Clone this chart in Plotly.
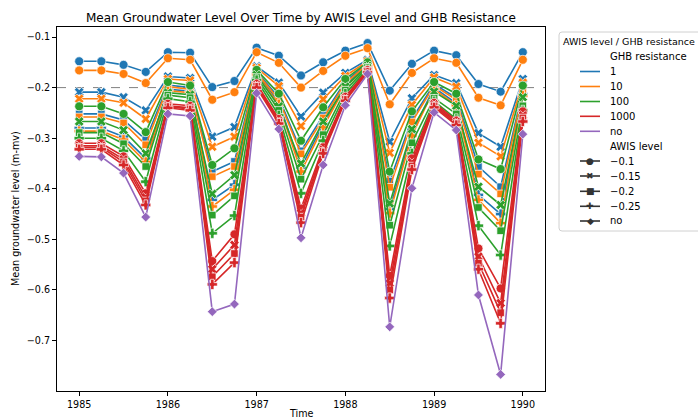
import plotly.graph_objects as go

# ---------------- data ----------------
time = [1985.0, 1985.25, 1985.5, 1985.75, 1986.0, 1986.25, 1986.5, 1986.75,
        1987.0, 1987.25, 1987.5, 1987.75, 1988.0, 1988.25, 1988.5, 1988.75,
        1989.0, 1989.25, 1989.5, 1989.75, 1990.0]

ghb_levels = ["1", "10", "100", "1000", "no"]
awis_levels = ["-0.1", "-0.15", "-0.2", "-0.25", "no"]

ghb1_awis010 = [-0.148, -0.148, -0.155, -0.169, -0.130, -0.131, -0.199, -0.187, -0.121, -0.137, -0.176,
                -0.150, -0.127, -0.112, -0.206, -0.153, -0.127, -0.136, -0.193, -0.208, -0.130]
ghb10_awis010 = [-0.166, -0.166, -0.173, -0.191, -0.142, -0.145, -0.224, -0.209, -0.130, -0.151, -0.200,
                 -0.167, -0.137, -0.122, -0.233, -0.171, -0.142, -0.151, -0.220, -0.235, -0.145]
ghb100_awis010 = [-0.237, -0.237, -0.252, -0.288, -0.189, -0.196, -0.353, -0.320, -0.165, -0.212, -0.305,
                  -0.239, -0.183, -0.150, -0.366, -0.247, -0.189, -0.212, -0.342, -0.361, -0.196]
ghb1000_awis010 = [-0.310, -0.310, -0.336, -0.409, -0.232, -0.236, -0.543, -0.490, -0.192, -0.262, -0.439,
                   -0.318, -0.218, -0.165, -0.572, -0.340, -0.230, -0.265, -0.518, -0.597, -0.247]

ghb1_awis015 = [-0.209, -0.209, -0.219, -0.245, -0.178, -0.181, -0.297, -0.278, -0.158, -0.190, -0.257,
                -0.210, -0.171, -0.145, -0.307, -0.221, -0.175, -0.191, -0.290, -0.317, -0.183]
ghb10_awis015 = [-0.222, -0.222, -0.230, -0.262, -0.183, -0.186, -0.317, -0.297, -0.161, -0.197, -0.276,
                 -0.223, -0.177, -0.148, -0.329, -0.234, -0.180, -0.198, -0.309, -0.336, -0.190]
ghb100_awis015 = [-0.267, -0.267, -0.284, -0.330, -0.210, -0.214, -0.410, -0.373, -0.175, -0.237, -0.350,
                  -0.267, -0.198, -0.157, -0.429, -0.282, -0.208, -0.236, -0.396, -0.432, -0.219]
ghb1000_awis015 = [-0.315, -0.315, -0.342, -0.417, -0.236, -0.240, -0.559, -0.511, -0.195, -0.266, -0.448,
                   -0.323, -0.221, -0.167, -0.587, -0.348, -0.233, -0.268, -0.534, -0.626, -0.255]

ghb1_awis020 = [-0.252, -0.252, -0.264, -0.303, -0.195, -0.200, -0.366, -0.346, -0.168, -0.220, -0.325,
                -0.255, -0.188, -0.152, -0.385, -0.262, -0.193, -0.220, -0.356, -0.396, -0.205]
ghb10_awis020 = [-0.258, -0.258, -0.270, -0.313, -0.198, -0.203, -0.376, -0.356, -0.170, -0.224, -0.331,
                 -0.260, -0.191, -0.154, -0.397, -0.268, -0.196, -0.224, -0.371, -0.410, -0.208]
ghb100_awis020 = [-0.289, -0.289, -0.311, -0.356, -0.215, -0.220, -0.452, -0.414, -0.180, -0.245, -0.381,
                  -0.293, -0.205, -0.160, -0.472, -0.309, -0.221, -0.252, -0.437, -0.483, -0.236]
ghb1000_awis020 = [-0.318, -0.318, -0.347, -0.424, -0.238, -0.242, -0.574, -0.528, -0.197, -0.268, -0.456,
                   -0.326, -0.223, -0.168, -0.600, -0.355, -0.236, -0.271, -0.547, -0.645, -0.260]

ghb1_awis025 = [-0.280, -0.280, -0.297, -0.340, -0.203, -0.207, -0.422, -0.392, -0.172, -0.229, -0.358,
                -0.272, -0.195, -0.156, -0.440, -0.289, -0.200, -0.231, -0.412, -0.450, -0.213]
ghb10_awis025 = [-0.286, -0.286, -0.303, -0.347, -0.206, -0.210, -0.435, -0.402, -0.174, -0.233, -0.366,
                 -0.278, -0.198, -0.158, -0.448, -0.295, -0.203, -0.235, -0.422, -0.468, -0.216]
ghb100_awis025 = [-0.300, -0.300, -0.325, -0.386, -0.222, -0.228, -0.488, -0.453, -0.185, -0.255, -0.409,
                  -0.305, -0.212, -0.163, -0.513, -0.330, -0.227, -0.262, -0.473, -0.531, -0.245]
ghb1000_awis025 = [-0.322, -0.322, -0.353, -0.432, -0.240, -0.245, -0.589, -0.546, -0.200, -0.271, -0.467,
                   -0.330, -0.226, -0.170, -0.616, -0.362, -0.239, -0.274, -0.559, -0.666, -0.267]

ghbno_awisno = [-0.336, -0.337, -0.369, -0.456, -0.252, -0.256, -0.643, -0.628, -0.211, -0.282, -0.497,
                -0.353, -0.235, -0.173, -0.673, -0.399, -0.249, -0.284, -0.610, -0.767, -0.292]

series = [
    ("1", "-0.1", ghb1_awis010), ("1", "-0.15", ghb1_awis015), ("1", "-0.2", ghb1_awis020), ("1", "-0.25", ghb1_awis025),
    ("10", "-0.1", ghb10_awis010), ("10", "-0.15", ghb10_awis015), ("10", "-0.2", ghb10_awis020), ("10", "-0.25", ghb10_awis025),
    ("100", "-0.1", ghb100_awis010), ("100", "-0.15", ghb100_awis015), ("100", "-0.2", ghb100_awis020), ("100", "-0.25", ghb100_awis025),
    ("1000", "-0.1", ghb1000_awis010), ("1000", "-0.15", ghb1000_awis015), ("1000", "-0.2", ghb1000_awis020), ("1000", "-0.25", ghb1000_awis025),
    ("no", "no", ghbno_awisno),
]

# ---------------- styles ----------------
colors = {"1": "#1f77b4", "10": "#ff7f0e", "100": "#2ca02c", "1000": "#d62728", "no": "#9467bd"}
symbols = {"-0.1": "circle", "-0.15": "x", "-0.2": "square", "-0.25": "cross", "no": "diamond"}
sizes = {"-0.1": 9, "-0.15": 8.5, "-0.2": 7.5, "-0.25": 8.5, "no": 7.5}
glyphs = {"-0.1": "●", "-0.15": "✖", "-0.2": "■", "-0.25": "✚", "no": "◆"}

W, H = 698, 419
L, R, T, B = 57, 545, 27, 391
FONT = "DejaVu Sans"
FS = 9.6


def px(x):
    return x / W


def py(y):
    return 1 - y / H


fig = go.Figure()
for ghb, awis, vals in series:
    fig.add_trace(go.Scatter(
        x=time, y=vals, mode="lines+markers",
        line=dict(color=colors[ghb], width=1.6),
        marker=dict(symbol=symbols[awis], size=sizes[awis], color=colors[ghb],
                    line=dict(color="white", width=0.7)),
        name=f"{ghb} / {awis}", showlegend=False,
    ))

fig.update_layout(
    width=W, height=H,
    margin=dict(l=0, r=0, t=0, b=0),
    paper_bgcolor="white", plot_bgcolor="white",
    font=dict(family=FONT, size=FS, color="#000"),
    showlegend=False,
    xaxis=dict(domain=[px(L), px(R)], range=[1984.75, 1990.25],
               tickvals=[1985, 1986, 1987, 1988, 1989, 1990],
               ticktext=["1985", "1986", "1987", "1988", "1989", "1990"],
               showgrid=False, zeroline=False, showline=True, mirror=True,
               linecolor="black", linewidth=1, ticks="outside", ticklen=4,
               tickcolor="black", automargin=False),
    yaxis=dict(domain=[py(B), py(T)], range=[-0.7998, -0.0802],
               tickvals=[-0.7, -0.6, -0.5, -0.4, -0.3, -0.2, -0.1],
               ticktext=["−0.7", "−0.6", "−0.5", "−0.4", "−0.3", "−0.2", "−0.1"],
               showgrid=False, zeroline=False, showline=True, mirror=True,
               linecolor="black", linewidth=1, ticks="outside", ticklen=4,
               tickcolor="black", automargin=False),
)

# dashed reference line
fig.add_shape(type="line", xref="x domain", yref="y", x0=0, x1=1, y0=-0.2, y1=-0.2,
              line=dict(color="gray", width=1, dash="dash"), layer="below")

# titles
fig.add_annotation(text="Mean Groundwater Level Over Time by AWIS Level and GHB Resistance",
                   xref="paper", yref="paper", x=px((L + R) / 2), y=py(17.5), showarrow=False,
                   font=dict(size=12, family=FONT), xanchor="center", yanchor="middle")
fig.add_annotation(text="Time", xref="paper", yref="paper", x=px((L + R) / 2), y=py(413),
                   showarrow=False, font=dict(size=FS), xanchor="center", yanchor="middle")
fig.add_annotation(text="Mean groundwater level (m-mv)", xref="paper", yref="paper",
                   x=px(15), y=py((T + B) / 2), showarrow=False, textangle=-90,
                   font=dict(size=FS), xanchor="center", yanchor="middle")

# ---------------- custom legend ----------------
LFS = 10
lx0, lx1, ly0, ly1, rad = 559, 720, 32, 231, 3
path = (f"M {px(lx0 + rad)},{py(ly0)} L {px(lx1)},{py(ly0)} L {px(lx1)},{py(ly1)} "
        f"L {px(lx0 + rad)},{py(ly1)} Q {px(lx0)},{py(ly1)} {px(lx0)},{py(ly1 - rad)} "
        f"L {px(lx0)},{py(ly0 + rad)} Q {px(lx0)},{py(ly0)} {px(lx0 + rad)},{py(ly0)} Z")
fig.add_shape(type="path", xref="paper", yref="paper", path=path,
              line=dict(color="#d0d0d0", width=1), fillcolor="rgba(255,255,255,0.8)")

fig.add_annotation(text="AWIS level / GHB resistance", xref="paper", yref="paper",
                   x=px(561), y=py(41), showarrow=False, xanchor="left", yanchor="middle",
                   font=dict(size=9.5))
fig.add_annotation(text="GHB resistance", xref="paper", yref="paper",
                   x=px(608), y=py(56), showarrow=False, xanchor="left", yanchor="middle",
                   font=dict(size=LFS))
fig.add_annotation(text="AWIS level", xref="paper", yref="paper",
                   x=px(608), y=py(146.3), showarrow=False, xanchor="left", yanchor="middle",
                   font=dict(size=LFS))

ghb_rows = [71.5, 86.5, 101.5, 116.3, 131.3]
for g, yy in zip(ghb_levels, ghb_rows):
    fig.add_shape(type="line", xref="paper", yref="paper", x0=px(580), x1=px(600),
                  y0=py(yy), y1=py(yy), line=dict(color=colors[g], width=1.6))
    fig.add_annotation(text=g, xref="paper", yref="paper", x=px(608), y=py(yy),
                       showarrow=False, xanchor="left", yanchor="middle", font=dict(size=LFS))

awis_rows = [161, 176, 191.3, 206.3, 221]
for a, yy in zip(awis_levels, awis_rows):
    fig.add_shape(type="line", xref="paper", yref="paper", x0=px(580), x1=px(600),
                  y0=py(yy), y1=py(yy), line=dict(color="#333", width=1.6))
    fig.add_annotation(text=glyphs[a], xref="paper", yref="paper", x=px(590), y=py(yy),
                       showarrow=False, xanchor="center", yanchor="middle",
                       font=dict(size=9, color="#333"))
    fig.add_annotation(text=a.replace("-", "−") if a != "no" else a, xref="paper", yref="paper",
                       x=px(608), y=py(yy), showarrow=False, xanchor="left", yanchor="middle",
                       font=dict(size=LFS))

fig.write_html("out.html")
